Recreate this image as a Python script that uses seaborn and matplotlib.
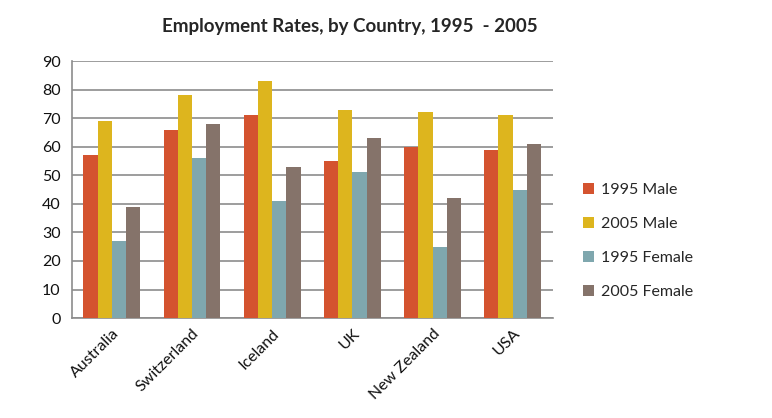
import pandas as pd
import matplotlib
matplotlib.use("Agg")
from matplotlib import pyplot as plt
import seaborn as sns

countries = ["Australia", "Switzerland", "Iceland", "UK", "New Zealand", "USA"]
series = ["1995 Male", "2005 Male", "1995 Female", "2005 Female"]
male_1995 = [57, 66, 71, 55, 60, 59]
male_2005 = [69, 78, 83, 73, 72, 71]
female_1995 = [27, 56, 41, 51, 25, 45]
female_2005 = [39, 68, 53, 63, 42, 61]
y_ticks = list(range(0, 100, 10))

colors = ["#D4532F", "#DDB51E", "#7FA7AE", "#85736A"]

rows = []
for name, vals in zip(series, [male_1995, male_2005, female_1995, female_2005]):
    for c, v in zip(countries, vals):
        rows.append({"Country": c, "Series": name, "Rate": v})
df = pd.DataFrame(rows)

sns.set_style("white")
plt.rcParams["font.family"] = ["Lato", "DejaVu Sans"]

fig = plt.figure(figsize=(7.72, 4.18), dpi=100)
ax = fig.add_axes([0.093, 0.239, 0.623, 0.615])

sns.barplot(data=df, x="Country", y="Rate", hue="Series", palette=colors,
            width=0.71, gap=0, saturation=1, linewidth=0, ax=ax, zorder=3)

ax.set_ylim(0, 90)
ax.set_yticks(y_ticks)
ax.set_xlim(-0.5, len(countries) - 0.5)
ax.yaxis.grid(True, color="#8c8c8c", linewidth=1.2, zorder=0)
ax.set_axisbelow(True)
ax.set_xlabel("")
ax.set_ylabel("")
for s in ["top", "right"]:
    ax.spines[s].set_visible(False)
for s in ["left", "bottom"]:
    ax.spines[s].set_color("#8c8c8c")
    ax.spines[s].set_linewidth(1.2)
ax.tick_params(axis="both", length=0, labelsize=11.5, colors="#111111", pad=8)
ax.set_xticks(range(len(countries)))
ax.set_xticklabels(countries, rotation=45, ha="right", rotation_mode="anchor")
ax.tick_params(axis="x", pad=6)

ax.legend(loc="center left", bbox_to_anchor=(1.05, 0.30), frameon=False,
          fontsize=11.5, handlelength=0.7, handleheight=0.7, labelspacing=1.25,
          handletextpad=0.4, borderaxespad=0)

fig.suptitle("Employment Rates, by Country, 1995  - 2005", x=0.453, y=0.958,
             fontsize=13.5, fontweight="bold")

fig.savefig("out.png", dpi=100)
